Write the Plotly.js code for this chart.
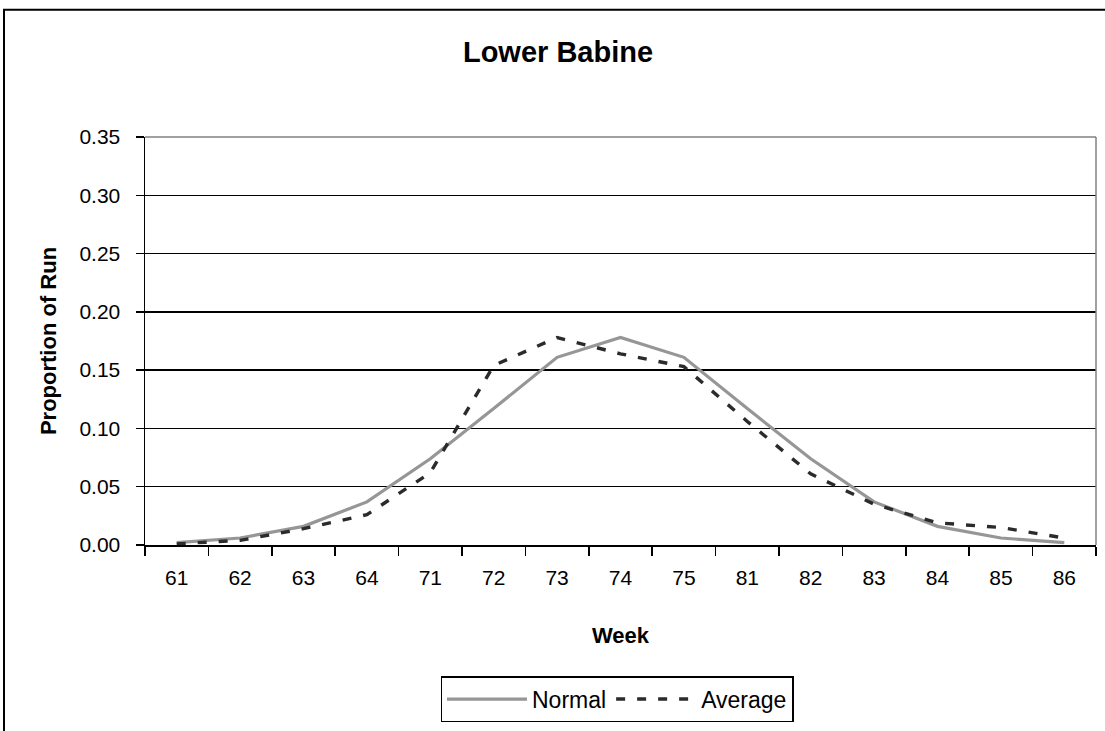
<!DOCTYPE html>
<html>
<head>
<meta charset="utf-8">
<script src="https://cdn.plot.ly/plotly-3.0.1.min.js"></script>
<style>
  html, body { margin: 0; padding: 0; background: #fff; }
  #chart { width: 1105px; height: 731px; }
</style>
</head>
<body>
<div id="chart"></div>
<script>
const weeks = ["61","62","63","64","71","72","73","74","75","81","82","83","84","85","86"];
const normal = [0.002,0.006,0.016,0.037,0.074,0.117,0.161,0.178,0.161,0.117,0.074,0.037,0.016,0.006,0.002];
const average = [0.001,0.004,0.014,0.026,0.062,0.154,0.178,0.164,0.153,0.106,0.061,0.035,0.019,0.015,0.006];
const yTicks = [0,0.05,0.10,0.15,0.20,0.25,0.30,0.35];

const FONT = "Liberation Sans, Arial, sans-serif";

const traces = [
  {
    x: weeks, y: normal, name: "Normal", type: "scatter", mode: "lines",
    line: {color: "#969696", width: 3.2}
  },
  {
    x: weeks, y: average, name: "Average", type: "scatter", mode: "lines",
    line: {color: "#2b2b2b", width: 3.4, dash: "9px,12px"}
  }
];

const L = 145, R = 9, T = 137, B = 177, W = 1105, H = 731;
const pw = W - L - R, ph = H - T - B;
const px = v => (v - L) / pw;
const py = v => (H - B - v) / ph;

const layout = {
  width: W, height: H,
  margin: {l: L, r: R, t: T, b: B, pad: 0},
  paper_bgcolor: "#ffffff",
  plot_bgcolor: "#ffffff",
  font: {family: FONT, color: "#000", size: 21},
  showlegend: true,
  title: {
    text: "<b>Lower Babine</b>",
    font: {family: FONT, size: 29, color: "#000"},
    x: px(558), xref: "paper", xanchor: "center",
    y: 1 - 52 / H, yref: "container", yanchor: "middle"
  },
  xaxis: {
    type: "category",
    range: [-0.5, weeks.length - 0.5],
    tickson: "boundaries",
    ticks: "outside", ticklen: 9, tickwidth: 1.5, tickcolor: "#000",
    showline: true, linecolor: "#000", linewidth: 1.5,
    showgrid: false, zeroline: false,
    tickfont: {family: FONT, size: 21, color: "#000"},
    ticklabelstandoff: 13,
    title: {text: "<b>Week</b>", font: {family: FONT, size: 22, color: "#000"}, standoff: 40},
    automargin: false,
    fixedrange: true
  },
  yaxis: {
    range: [0, 0.35],
    tickvals: yTicks,
    tickformat: ".2f",
    ticks: "outside", ticklen: 8, tickwidth: 1.5, tickcolor: "#000",
    showline: true, linecolor: "#000", linewidth: 1.5,
    showgrid: true, gridcolor: "#000", gridwidth: 1.4,
    zeroline: false,
    tickfont: {family: FONT, size: 21, color: "#000"},
    ticklabelstandoff: 11,
    title: {text: "<b>Proportion of Run</b>", font: {family: FONT, size: 22, color: "#000"}, standoff: 16},
    automargin: false,
    fixedrange: true
  },
  legend: {
    orientation: "h",
    x: px(617), xanchor: "center",
    y: py(688), yanchor: "top",
    bordercolor: "#000", borderwidth: 1.5,
    bgcolor: "#fff",
    font: {family: FONT, size: 23, color: "#000"},
    itemwidth: 80,
    tracegroupgap: 0
  },
  shapes: [
    {type: "line", xref: "paper", yref: "paper", x0: 0, x1: 1, y0: 1, y1: 1,
     line: {color: "#808080", width: 1.5}},
    {type: "line", xref: "paper", yref: "paper", x0: 1, x1: 1, y0: 0, y1: 1,
     line: {color: "#808080", width: 1.5}},
    {type: "rect", xref: "paper", yref: "paper",
     x0: px(4), x1: px(1120), y0: py(745), y1: py(7),
     line: {color: "#000", width: 2}, layer: "below"}
  ]
};

Plotly.newPlot("chart", traces, layout, {displayModeBar: false, staticPlot: true});
</script>
</body>
</html>
